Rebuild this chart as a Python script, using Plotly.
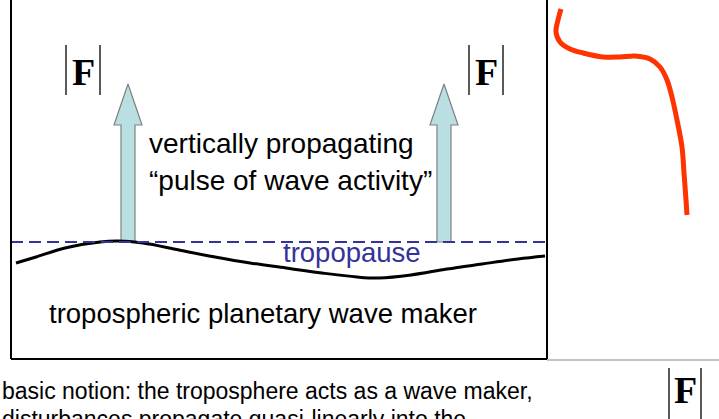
import plotly.graph_objects as go

W, H = 719, 419

# ---- data (pixel-space diagram coordinates) ----
wave_x = [16, 36, 65, 100, 118, 143, 179, 215, 250, 286, 322, 357, 379, 411, 447, 482, 518, 545]
wave_y = [263, 257, 248, 242, 241, 243, 250, 257, 263, 268, 273, 277, 278, 275, 269, 264, 259, 256]

red_x = [561, 558, 556, 560, 570, 583, 603, 620, 635, 650, 660, 667, 672, 677, 682, 684, 686, 687]
red_y = [9, 20, 32, 42, 49, 53, 57, 57, 56, 59, 67, 80, 97, 120, 147, 173, 200, 215]

arrow_cx = [128, 444]
arrow_tip, arrow_neck, arrow_base = 84, 125, 242
shaft_half, head_half = 7, 14

tropopause_y = 242
box_left, box_right, box_bottom = 11, 547, 359

flux_bars = [(66, 100, 45, 95), (469, 503, 45, 95), (669, 701, 368, 425)]
flux_label = "<b>F</b>"

texts = {
    "line1": "vertically propagating",
    "line2": "\u201cpulse of wave activity\u201d",
    "tropopause": "tropopause",
    "maker": "tropospheric planetary wave maker",
    "note1": "basic notion: the troposphere acts as a wave maker,",
    "note2": "disturbances propagate quasi-linearly into the",
}

fig = go.Figure()

# arrows
for cx in arrow_cx:
    px = [cx - shaft_half, cx - shaft_half, cx - head_half, cx, cx + head_half,
          cx + shaft_half, cx + shaft_half, cx - shaft_half]
    py = [arrow_base, arrow_neck, arrow_neck, arrow_tip, arrow_neck,
          arrow_neck, arrow_base, arrow_base]
    fig.add_trace(go.Scatter(x=px, y=py, mode="lines", fill="toself",
                             fillcolor="#b9dfe3", line=dict(color="#808080", width=1.2),
                             hoverinfo="skip", showlegend=False))

# wave
fig.add_trace(go.Scatter(x=wave_x, y=wave_y, mode="lines", line=dict(color="black", width=3, shape="spline"),
                         hoverinfo="skip", showlegend=False))
# tropopause dashed
fig.add_trace(go.Scatter(x=[box_left, box_right - 2], y=[tropopause_y, tropopause_y], mode="lines",
                         line=dict(color="#333399", width=2, dash="12px,6px"),
                         hoverinfo="skip", showlegend=False))
# red profile
fig.add_trace(go.Scatter(x=red_x, y=red_y, mode="lines", line=dict(color="#ff3300", width=5, shape="spline"),
                         hoverinfo="skip", showlegend=False))

shapes = [
    dict(type="line", x0=box_left, x1=box_left, y0=0, y1=box_bottom, line=dict(color="black", width=2)),
    dict(type="line", x0=box_right, x1=box_right, y0=0, y1=box_bottom, line=dict(color="black", width=2)),
    dict(type="line", x0=box_left, x1=box_right, y0=box_bottom, y1=box_bottom, line=dict(color="black", width=2)),
    dict(type="line", x0=box_right, x1=W, y0=box_bottom + 1, y1=box_bottom + 1, line=dict(color="#888888", width=1)),
]
for xa, xb, ya, yb in flux_bars:
    for xx in (xa, xb):
        shapes.append(dict(type="line", x0=xx, x1=xx, y0=ya, y1=yb, line=dict(color="black", width=1.3)))

ann = []
sans = "Liberation Sans, Arial, sans-serif"
serif = "Liberation Serif, Times New Roman, serif"
for xa, xb, ya, yb in flux_bars:
    ann.append(dict(x=(xa + xb) / 2, y=ya + 27 if yb < 400 else ya + 22, text=flux_label, showarrow=False,
                    font=dict(family=serif, size=38, color="black"), xanchor="center", yanchor="middle"))
ann += [
    dict(x=147, y=143, text=texts["line1"], xanchor="left", yanchor="middle",
         font=dict(family=sans, size=28, color="black")),
    dict(x=147, y=180, text=texts["line2"], xanchor="left", yanchor="middle",
         font=dict(family=sans, size=28, color="black")),
    dict(x=281, y=252, text=texts["tropopause"], xanchor="left", yanchor="middle",
         font=dict(family=sans, size=27.5, color="#333399")),
    dict(x=47, y=313, text=texts["maker"], xanchor="left", yanchor="middle",
         font=dict(family=sans, size=27.5, color="black")),
    dict(x=0, y=391, text=texts["note1"], xanchor="left", yanchor="middle",
         font=dict(family=sans, size=23, color="black")),
    dict(x=0, y=419, text=texts["note2"], xanchor="left", yanchor="middle",
         font=dict(family=sans, size=23, color="black")),
]
for a in ann:
    a["showarrow"] = False

fig.update_layout(
    width=W, height=H, margin=dict(l=0, r=0, t=0, b=0),
    paper_bgcolor="white", plot_bgcolor="white",
    xaxis=dict(range=[0, W], visible=False, fixedrange=True),
    yaxis=dict(range=[H, 0], visible=False, fixedrange=True),
    shapes=shapes, annotations=ann, showlegend=False,
)
fig.write_html("out.html", config={"displayModeBar": False},
               post_script="document.body.style.margin='0';document.body.style.overflow='hidden';")
